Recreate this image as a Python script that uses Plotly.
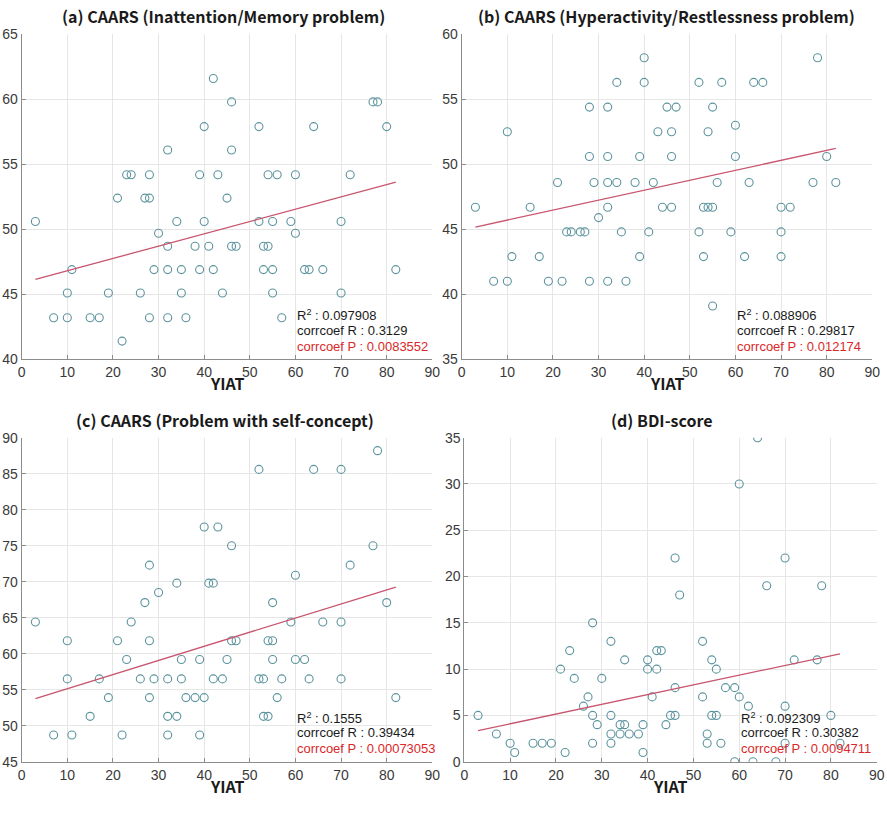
import numpy as np
import plotly.graph_objects as go

# ---------------- data ----------------
a_x = [3, 7, 10, 10, 11, 15, 17, 19, 21, 22, 23, 24, 26, 27, 28, 28, 28, 29, 30, 32, 32, 32, 32, 34, 35, 35, 36, 38,
       39, 39, 40, 40, 41, 42, 42, 43, 44, 45, 46, 46, 46, 47, 52, 52, 53, 53, 54, 54, 55, 55, 55, 56, 57, 59, 60, 60,
       62, 63, 64, 66, 70, 70, 72, 77, 78, 80, 82]
a_y = [50.6, 43.2, 45.1, 43.2, 46.9, 43.2, 43.2, 45.1, 52.4, 41.4, 54.2, 54.2, 45.1, 52.4, 52.4, 54.2, 43.2, 46.9, 49.7,
       56.1, 48.7, 46.9, 43.2, 50.6, 46.9, 45.1, 43.2, 48.7, 54.2, 46.9, 57.9, 50.6, 48.7, 61.6, 46.9, 54.2, 45.1, 52.4,
       59.8, 56.1, 48.7, 48.7, 57.9, 50.6, 48.7, 46.9, 54.2, 48.7, 50.6, 46.9, 45.1, 54.2, 43.2, 50.6, 54.2, 49.7, 46.9,
       46.9, 57.9, 46.9, 50.6, 45.1, 54.2, 59.8, 59.8, 57.9, 46.9]

b_x = [3, 7, 10, 10, 11, 15, 17, 19, 21, 22, 23, 24, 26, 27, 28, 28, 28, 29, 30, 32, 32, 32, 32, 32, 34, 34, 35, 36,
       38, 39, 39, 40, 40, 41, 42, 43, 44, 45, 46, 46, 46, 47, 52, 52, 53, 53, 54, 54, 55, 55, 55, 56, 57, 59, 60, 60,
       62, 63, 64, 66, 70, 70, 70, 72, 77, 78, 80, 82]
b_y = [46.7, 41.0, 52.5, 41.0, 42.9, 46.7, 42.9, 41.0, 48.6, 41.0, 44.8, 44.8, 44.8, 44.8, 54.4, 50.6, 41.0, 48.6, 45.9,
       54.4, 50.6, 48.6, 46.7, 41.0, 56.3, 48.6, 44.8, 41.0, 48.6, 50.6, 42.9, 58.2, 56.3, 44.8, 48.6, 52.5, 46.7, 54.4,
       52.5, 50.6, 46.7, 54.4, 56.3, 44.8, 46.7, 42.9, 52.5, 46.7, 54.4, 46.7, 39.1, 48.6, 56.3, 44.8, 53.0, 50.6, 42.9,
       48.6, 56.3, 56.3, 46.7, 44.8, 42.9, 46.7, 48.6, 58.2, 50.6, 48.6]

c_x = [3, 7, 10, 10, 11, 15, 17, 19, 21, 22, 23, 24, 26, 27, 28, 28, 28, 29, 30, 32, 32, 32, 34, 34, 35, 35, 36, 38,
       39, 39, 40, 40, 41, 42, 42, 43, 44, 45, 46, 46, 47, 52, 52, 53, 53, 54, 54, 55, 55, 55, 56, 57, 59, 60, 60, 62,
       63, 64, 66, 70, 70, 70, 72, 77, 78, 80, 82]
c_y = [64.4, 48.7, 61.8, 56.5, 48.7, 51.3, 56.5, 53.9, 61.8, 48.7, 59.2, 64.4, 56.5, 67.1, 72.3, 61.8, 53.9, 56.5, 68.5,
       56.5, 51.3, 48.7, 69.8, 51.3, 59.2, 56.5, 53.9, 53.9, 59.2, 48.7, 77.6, 53.9, 69.8, 69.8, 56.5, 77.6, 56.5, 59.2,
       75.0, 61.8, 61.8, 85.6, 56.5, 56.5, 51.3, 61.8, 51.3, 67.1, 61.8, 59.2, 53.9, 56.5, 64.4, 70.9, 59.2, 59.2, 56.5,
       85.6, 64.4, 85.6, 64.4, 56.5, 72.3, 75.0, 88.2, 67.1, 53.9]

d_x = [3, 7, 10, 11, 15, 17, 19, 21, 22, 23, 24, 26, 27, 28, 28, 28, 29, 30, 32, 32, 32, 32, 34, 34, 35, 35, 36, 38,
       39, 39, 40, 40, 41, 42, 42, 43, 44, 45, 46, 46, 46, 47, 52, 52, 53, 53, 54, 54, 55, 55, 56, 57, 59, 59, 60, 60,
       62, 63, 64, 66, 68, 70, 70, 70, 72, 77, 78, 80, 82]
d_y = [5, 3, 2, 1, 2, 2, 2, 10, 1, 12, 9, 6, 7, 15, 5, 2, 4, 9, 13, 5, 3, 2, 3, 4, 11, 4, 3, 3,
       4, 1, 11, 10, 7, 10, 12, 12, 4, 5, 22, 8, 5, 18, 13, 7, 3, 2, 11, 5, 10, 5, 2, 8, 8, 0, 30, 7,
       6, 0, 35, 19, 0, 22, 6, 2, 11, 11, 19, 5, 2]

titles = ["(a) CAARS (Inattention/Memory problem)",
          "(b) CAARS (Hyperactivity/Restlessness problem)",
          "(c) CAARS (Problem with self-concept)",
          "(d) BDI-score"]
x_label = "YIAT"
stat_r2 = ["0.097908", "0.088906", "0.1555", "0.092309"]
stat_r = ["0.3129", "0.29817", "0.39434", "0.30382"]
stat_p = ["0.0083552", "0.012174", "0.00073053", "0.0094711"]
y_ranges = [[40, 65], [35, 60], [45, 90], [0, 35]]
y_dticks = [5, 5, 5, 5]
x_range = [0, 90]

# ---------------- figure ----------------
W, H = 887, 814
panels = [(a_x, a_y), (b_x, b_y), (c_x, c_y), (d_x, d_y)]
# pixel boxes (left, right, top, bottom)
boxes = [(21.7, 432.3, 34.3, 359.3), (461.7, 872.3, 34.3, 359.3),
         (21.7, 432.3, 437.7, 761.7), (464.3, 876.7, 437.7, 761.7)]
title_cx = [223, 666, 225, 662]

MARK = "rgb(92,148,158)"
LINE = "rgb(200,85,110)"
RED = "rgb(218,40,40)"
TICKFONT = dict(family="Liberation Sans, Arial, sans-serif", size=14, color="#3a3a3a")

fig = go.Figure()
layout = dict(width=W, height=H, margin=dict(l=0, r=0, t=0, b=0, autoexpand=False),
              paper_bgcolor="white", plot_bgcolor="white", showlegend=False)
annotations = []

for i, ((px, py), (l, r, t, b)) in enumerate(zip(panels, boxes)):
    k = "" if i == 0 else str(i + 1)
    xa, ya = "x" + k, "y" + k
    fig.add_trace(go.Scatter(x=px, y=py, mode="markers", xaxis=xa, yaxis=ya,
                             marker=dict(symbol="circle-open", size=8, color=MARK,
                                         line=dict(width=1.1, color=MARK))))
    xs = np.array(px, dtype=float)
    ys = np.array(py, dtype=float)
    slope, inter = np.polyfit(xs, ys, 1)
    lx = np.array([xs.min(), xs.max()])
    fig.add_trace(go.Scatter(x=lx, y=slope * lx + inter, mode="lines", xaxis=xa, yaxis=ya,
                             line=dict(color=LINE, width=1.3)))
    common = dict(showgrid=True, gridcolor="#e6e6e6", gridwidth=1, showline=True,
                  linecolor="#8c8c8c", linewidth=1, ticks="inside", ticklen=4,
                  tickcolor="#8c8c8c", tickfont=TICKFONT, zeroline=False, mirror=False,
                  automargin=False)
    layout["xaxis" + k] = dict(domain=[l / W, r / W], range=x_range, dtick=10, tick0=0,
                               anchor=ya, **common)
    layout["yaxis" + k] = dict(domain=[1 - b / H, 1 - t / H], range=y_ranges[i],
                               dtick=y_dticks[i], tick0=0, anchor=xa, **common)
    # titles
    annotations.append(dict(text="<b>" + titles[i] + "</b>", xref="paper", yref="paper",
                            x=title_cx[i] / W, y=1 - (t - 18) / H, xanchor="center",
                            yanchor="middle", showarrow=False,
                            font=dict(family="Noto Sans CJK KR, Noto Sans, sans-serif",
                                      size=16, color="#1a1a1a")))
    annotations.append(dict(text="<b>" + x_label + "</b>", xref="paper", yref="paper",
                            x=(l + r) / 2 / W, y=1 - (b + 24) / H, xanchor="center",
                            yanchor="middle", showarrow=False,
                            font=dict(family="Noto Sans CJK KR, Noto Sans, sans-serif",
                                      size=16, color="#1a1a1a")))
    # stats text
    lines = [("R<sup>2</sup> : " + stat_r2[i], "#1a1a1a", 0.136),
             ("corrcoef R : " + stat_r[i], "#1a1a1a", 0.089),
             ("corrcoef P : " + stat_p[i], RED, 0.040)]
    for txt, col, fy in lines:
        annotations.append(dict(text=txt, xref=xa, yref=ya + " domain", x=60, y=fy,
                                xanchor="left", yanchor="middle", showarrow=False,
                                font=dict(family="Liberation Sans, Arial, sans-serif",
                                          size=13, color=col)))

layout["annotations"] = annotations
fig.update_layout(**layout)
fig.write_html("out.html", config={"displayModeBar": False},
               post_script="document.body.style.margin='0';document.body.style.overflow='hidden';")
